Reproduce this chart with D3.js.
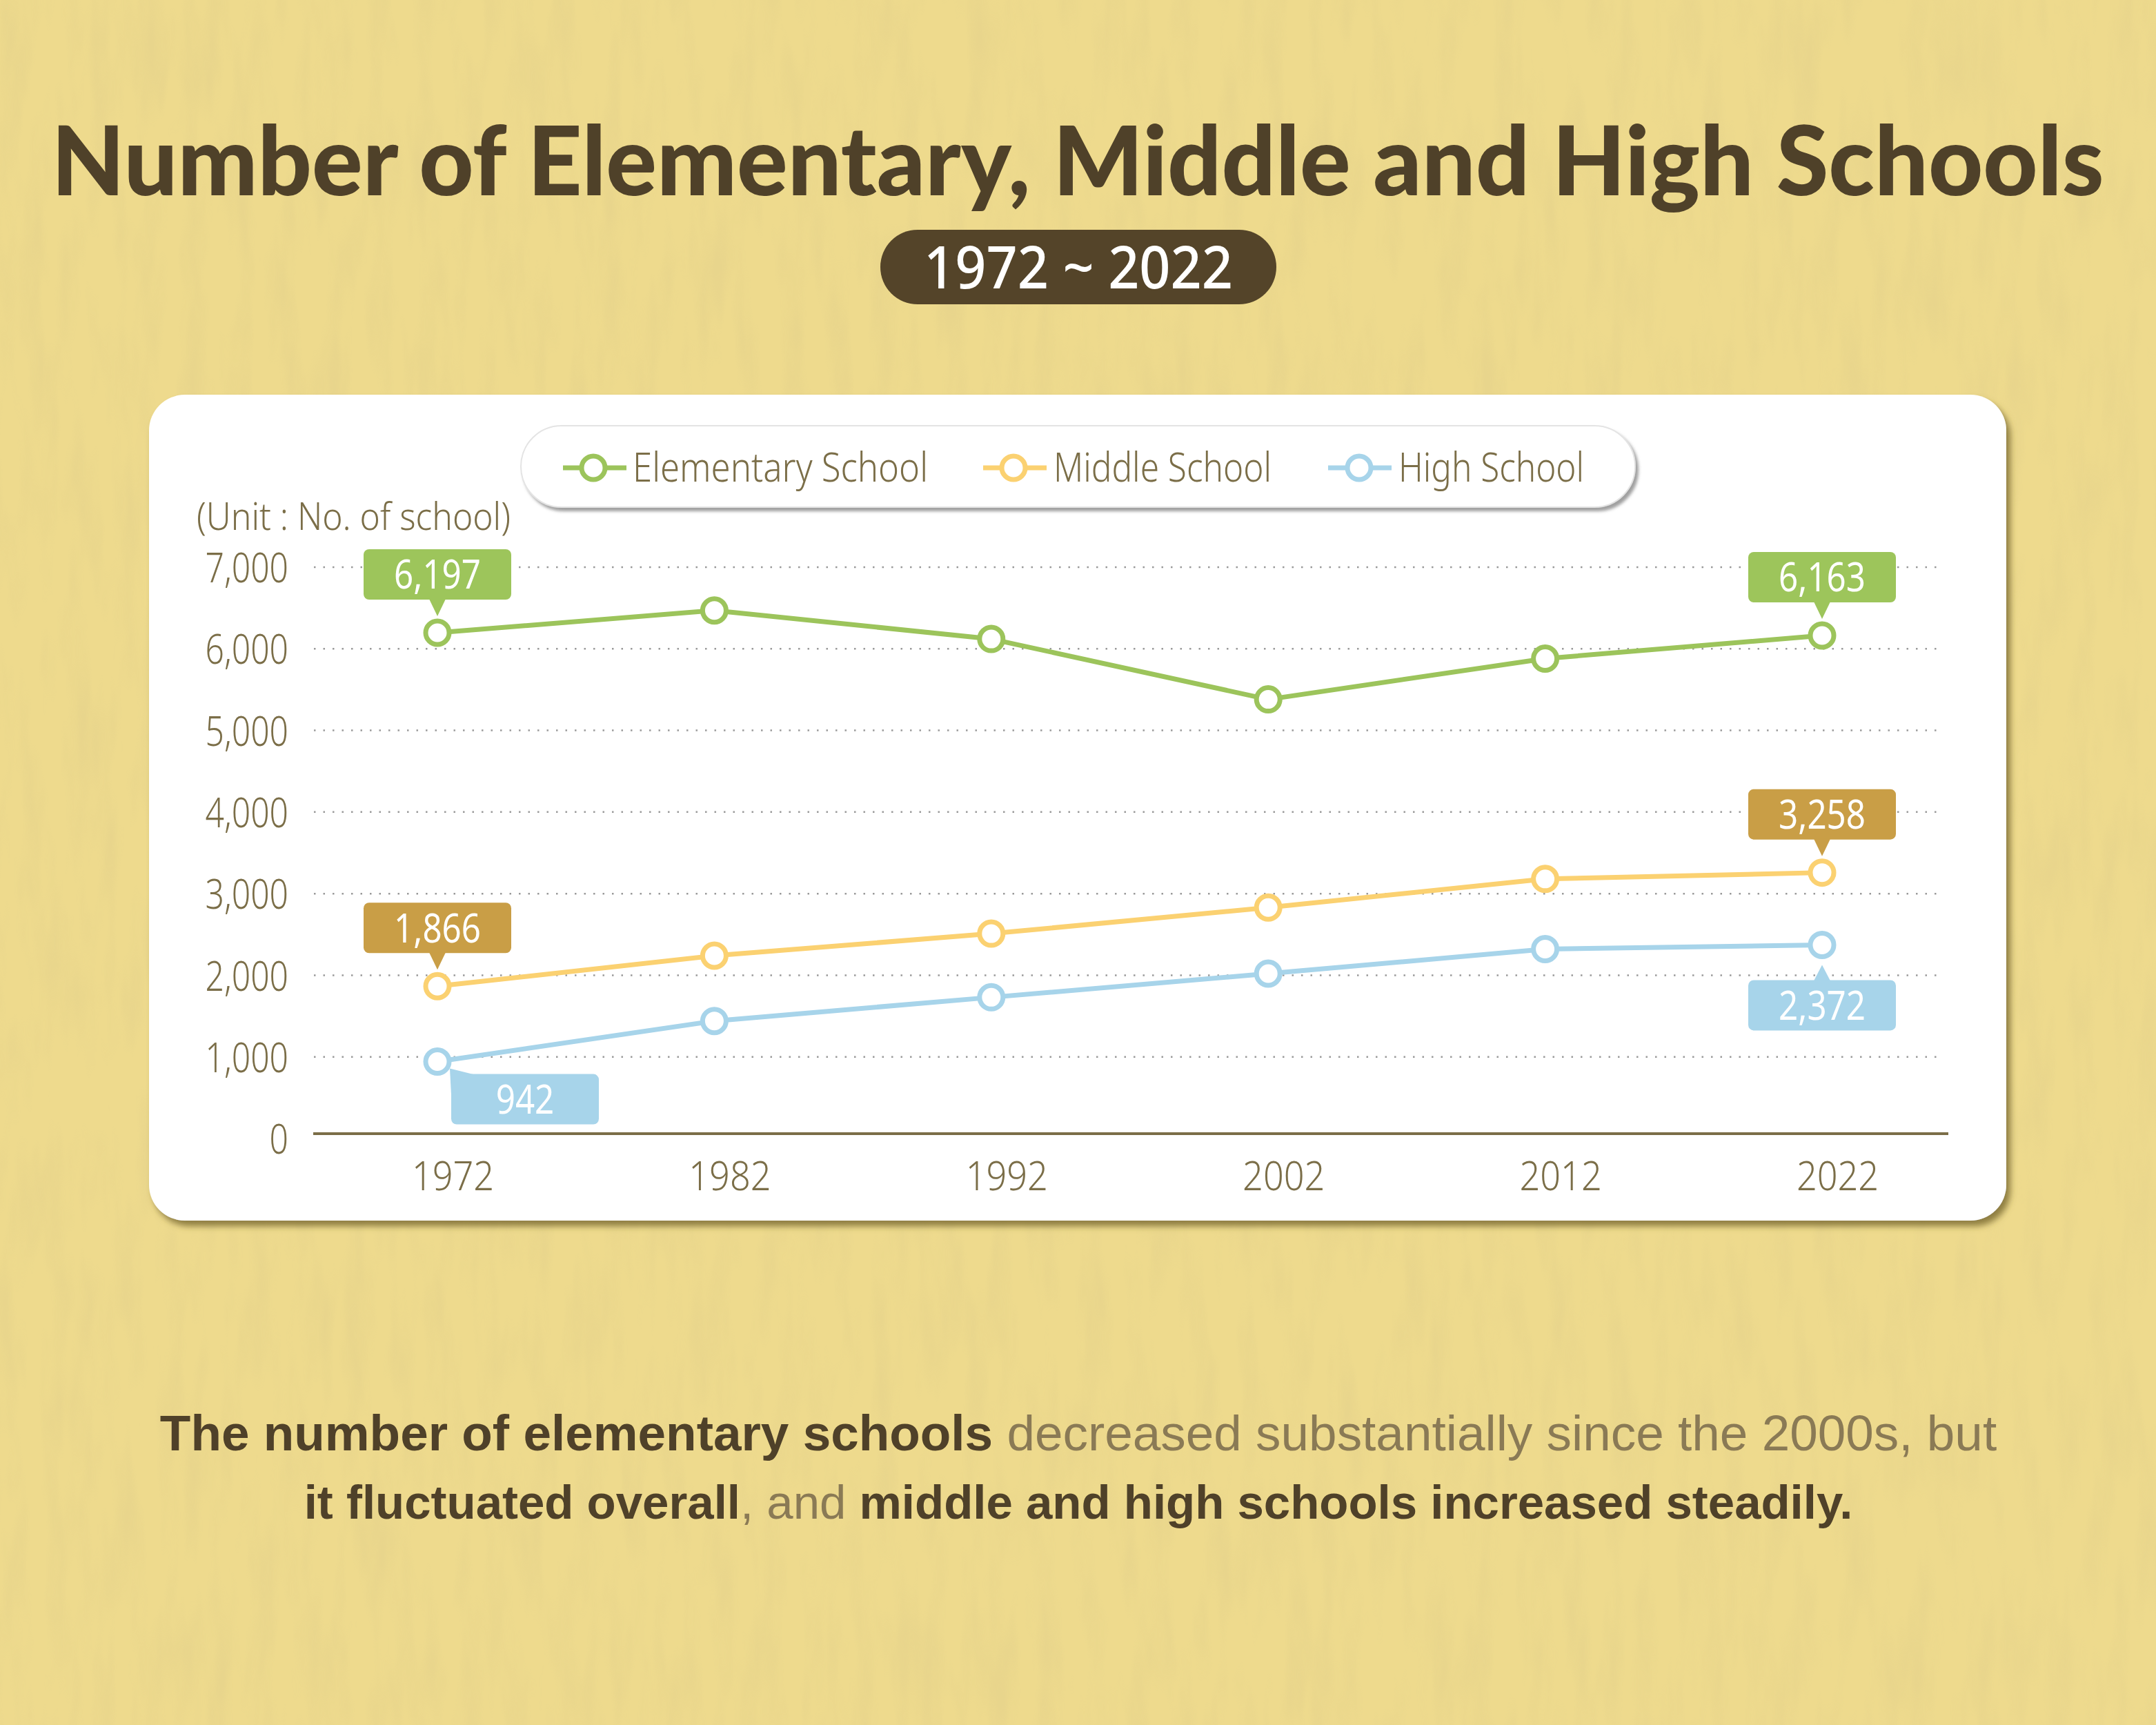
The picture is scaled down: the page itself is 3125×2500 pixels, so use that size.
<!DOCTYPE html>
<html><head><meta charset="utf-8">
<script src="https://cdn.jsdelivr.net/npm/d3@7"></script>
<style>
html,body{margin:0;padding:0;background:#EEDA8D;}
svg{display:block;}
</style></head>
<body>
<svg id="chart" width="3125" height="2500"></svg>
<script>
const years = [1972, 1982, 1992, 2002, 2012, 2022];
const elementary = [6197, 6470, 6120, 5380, 5880, 6163];
const middle = [1866, 2240, 2510, 2830, 3180, 3258];
const high = [942, 1440, 1730, 2020, 2320, 2372];
const yTicks = [0, 1000, 2000, 3000, 4000, 5000, 6000, 7000];
const seriesNames = ["Elementary School", "Middle School", "High School"];
const titleText = "Number of Elementary, Middle and High Schools";
const periodText = "1972 ~ 2022";
const unitText = "(Unit : No. of school)";
const noteLine1 = [["The number of elementary schools", true], [" decreased substantially since the 2000s, but", false]];
const noteLine2 = [["it fluctuated overall", true], [", and ", false], ["middle and high schools increased steadily.", true]];

const colors = {elem:"#9CC45B", mid:"#FBD171", high:"#A7D4EA",
  elemBox:"#9DC55B", midBox:"#C99E46", highBox:"#A7D4EA",
  dark:"#4F4129", light:"#8A7A55", axis:"#7B6E48"};

const svg = d3.select("#chart");
const defs = svg.append("defs");

// paper texture
const tex = defs.append("filter").attr("id","paper").attr("x",0).attr("y",0).attr("width","100%").attr("height","100%");
tex.append("feTurbulence").attr("type","fractalNoise").attr("baseFrequency","0.03 0.006").attr("numOctaves",3).attr("seed",4).attr("result","n");
tex.append("feColorMatrix").attr("in","n").attr("type","matrix")
  .attr("values","0 0 0 0 0.62  0 0 0 0 0.52  0 0 0 0 0.25  0 0 0 -1.3 0.75").attr("result","c");
tex.append("feComposite").attr("in","c").attr("in2","SourceGraphic").attr("operator","in");

const sh = defs.append("filter").attr("id","cardShadow").attr("x","-5%").attr("y","-5%").attr("width","110%").attr("height","115%");
sh.append("feDropShadow").attr("dx",6).attr("dy",8).attr("stdDeviation",5).attr("flood-color","#6E5E2A").attr("flood-opacity",0.75);
const sh2 = defs.append("filter").attr("id","legShadow").attr("x","-5%").attr("y","-20%").attr("width","110%").attr("height","150%");
sh2.append("feDropShadow").attr("dx",4).attr("dy",5).attr("stdDeviation",2).attr("flood-color","#777").attr("flood-opacity",0.7);

svg.append("rect").attr("width",3125).attr("height",2500).attr("fill","#EEDA8D");
svg.append("rect").attr("width",3125).attr("height",2500).attr("fill","#EEDA8D").attr("filter","url(#paper)").attr("opacity",0.3);

function fit(sel, target){
  sel.attr("textLength", target).attr("lengthAdjust","spacingAndGlyphs");
}

// Title
const title = svg.append("text").attr("x",1562).attr("y",283).attr("text-anchor","middle")
  .attr("font-family","Lato, 'Open Sans', sans-serif").attr("font-weight",900).attr("font-size",140)
  .attr("fill",colors.dark).text(titleText);
fit(title, 2975);

// Period pill
svg.append("rect").attr("x",1276).attr("y",333).attr("width",574).attr("height",108).attr("rx",54)
  .attr("fill","#544429");
const per = svg.append("text").attr("x",1563).attr("y",418).attr("text-anchor","middle")
  .attr("font-family","'Noto Sans', sans-serif").attr("font-weight",500).attr("font-size",86)
  .attr("fill","#fff").text(periodText);
fit(per, 448);

// Card
svg.append("rect").attr("x",216).attr("y",572).attr("width",2692).attr("height",1197).attr("rx",52)
  .attr("fill","#fff").attr("filter","url(#cardShadow)");

// Legend pill
svg.append("rect").attr("x",755).attr("y",617).attr("width",1615).attr("height",118).attr("rx",59)
  .attr("fill","#fff").attr("stroke","#E4E4E4").attr("stroke-width",2).attr("filter","url(#legShadow)");

const legendItems = [
  {name:seriesNames[0], color:colors.elem, lx:816, cx:860, tx:917, tw:428},
  {name:seriesNames[1], color:colors.mid, lx:1425, cx:1469, tx:1527, tw:316},
  {name:seriesNames[2], color:colors.high, lx:1925, cx:1970, tx:2027, tw:269}
];
const lg = svg.append("g");
legendItems.forEach(d=>{
  lg.append("line").attr("x1",d.lx).attr("x2",d.lx+92).attr("y1",678).attr("y2",678)
    .attr("stroke",d.color).attr("stroke-width",7);
  lg.append("circle").attr("cx",d.cx).attr("cy",678).attr("r",17).attr("fill","#fff")
    .attr("stroke",d.color).attr("stroke-width",7);
  const t = lg.append("text").attr("x",d.tx).attr("y",698)
    .attr("font-family","'Noto Sans', sans-serif").attr("font-weight",300).attr("font-size",58)
    .attr("fill",colors.axis).text(d.name);
  fit(t, d.tw);
});

// Unit label
const unit = svg.append("text").attr("x",285).attr("y",768)
  .attr("font-family","'Noto Sans', sans-serif").attr("font-weight",300).attr("font-size",56)
  .attr("fill",colors.axis).text(unitText);
fit(unit, 455);

// Scales
const x = d3.scalePoint().domain(years).range([634, 2641]);
const y = d3.scaleLinear().domain([0, 7000]).range([1650, 822]);

// Gridlines
const grid = svg.append("g");
yTicks.filter(v=>v>0).forEach(v=>{
  grid.append("line").attr("x1",455).attr("x2",2815).attr("y1",y(v)).attr("y2",y(v))
    .attr("stroke","#9A9A9A").attr("stroke-width",2.5).attr("stroke-dasharray","2.5,11");
});

// Y axis
const yAxis = d3.axisLeft(y).tickValues(yTicks).tickSize(0).tickPadding(0).tickFormat(d3.format(","));
const yg = svg.append("g").attr("transform","translate(418,0)").call(yAxis);
yg.select(".domain").remove();
yg.selectAll("text").attr("font-family","'Noto Sans', sans-serif").attr("font-weight",300)
  .attr("font-size",60).attr("fill",colors.axis).attr("dy","0.36em")
  .attr("transform","scale(0.8,1)");

// X axis
const xAxis = d3.axisBottom(x).tickSize(0).tickPadding(0).tickFormat(d=>String(d));
const xg = svg.append("g").attr("transform","translate(22,1643)").call(xAxis);
xg.select(".domain").remove();
xg.selectAll("text").attr("font-family","'Noto Sans', sans-serif").attr("font-weight",300)
  .attr("font-size",58).attr("fill",colors.axis).attr("y",82).attr("dy",0)
  .attr("transform","scale(0.9,1)");
svg.append("line").attr("x1",454).attr("x2",2824).attr("y1",1643).attr("y2",1643)
  .attr("stroke",colors.axis).attr("stroke-width",4);

// Lines
const series = [
  {vals:high, color:colors.high},
  {vals:middle, color:colors.mid},
  {vals:elementary, color:colors.elem}
];
const line = d3.line().x((d,i)=>x(years[i])).y(d=>y(d));
series.forEach(s=>{
  svg.append("path").datum(s.vals).attr("d",line).attr("fill","none")
    .attr("stroke",s.color).attr("stroke-width",7).attr("stroke-linejoin","round");
});
series.forEach(s=>{
  svg.append("g").selectAll("circle").data(s.vals).join("circle")
    .attr("cx",(d,i)=>x(years[i])).attr("cy",d=>y(d)).attr("r",17)
    .attr("fill","#fff").attr("stroke",s.color).attr("stroke-width",7);
});

// Callouts
const fmt = d3.format(",");
const callouts = [
  {v:elementary[0], yr:years[0], color:colors.elemBox, pos:"above"},
  {v:elementary[5], yr:years[5], color:colors.elemBox, pos:"above"},
  {v:middle[0], yr:years[0], color:colors.midBox, pos:"above"},
  {v:middle[5], yr:years[5], color:colors.midBox, pos:"above"},
  {v:high[0], yr:years[0], color:colors.highBox, pos:"belowRight"},
  {v:high[5], yr:years[5], color:colors.highBox, pos:"below"}
];
const bw = 214, bh = 73;
callouts.forEach(c=>{
  const px = x(c.yr), py = y(c.v);
  const g = svg.append("g");
  let bx, by, tri;
  if(c.pos==="above"){
    bx = px - bw/2; by = py - 48 - bh;
    tri = [[px-12,by+bh-1],[px+12,by+bh-1],[px,by+bh+24]];
  } else if(c.pos==="below"){
    bx = px - bw/2; by = py + 51;
    tri = [[px-12,by+1],[px+12,by+1],[px,by-22]];
  } else {
    bx = px + 20; by = py + 18;
    tri = [[bx,by+30],[bx+34,by+1],[bx-2,by-8]];
  }
  g.append("rect").attr("x",bx).attr("y",by).attr("width",bw).attr("height",bh).attr("rx",8).attr("fill",c.color);
  g.append("path").attr("d",d3.line()(tri)+"Z").attr("fill",c.color);
  const t = g.append("text").attr("x",bx+bw/2).attr("y",by+bh/2).attr("dy","0.36em").attr("text-anchor","middle")
    .attr("font-family","'Noto Sans', sans-serif").attr("font-weight",400).attr("font-size",58)
    .attr("fill","#fff").text(fmt(c.v));
  const cx = bx+bw/2;
  t.attr("transform",`translate(${cx},0) scale(0.85,1) translate(${-cx},0)`);
});

// Bottom note: one text per line, coloured tspans; font size chosen so the natural width fits
function note(parts, yb, target){
  const t = svg.append("text").attr("y",yb).attr("x",1563).attr("text-anchor","middle")
    .attr("font-family","'Liberation Sans', Arial, sans-serif").attr("font-size",80)
    .attr("xml:space","preserve").style("white-space","pre");
  parts.forEach(p => t.append("tspan").attr("font-weight",p[1]?700:400)
    .attr("fill",p[1]?colors.dark:colors.light).text(p[0]));
  const w = t.node().getComputedTextLength();
  t.attr("font-size", Math.min(84, 80 * target / w));
}
note(noteLine1, 2102, 2663);
note(noteLine2, 2201, 2245);
</script>
</body></html>
